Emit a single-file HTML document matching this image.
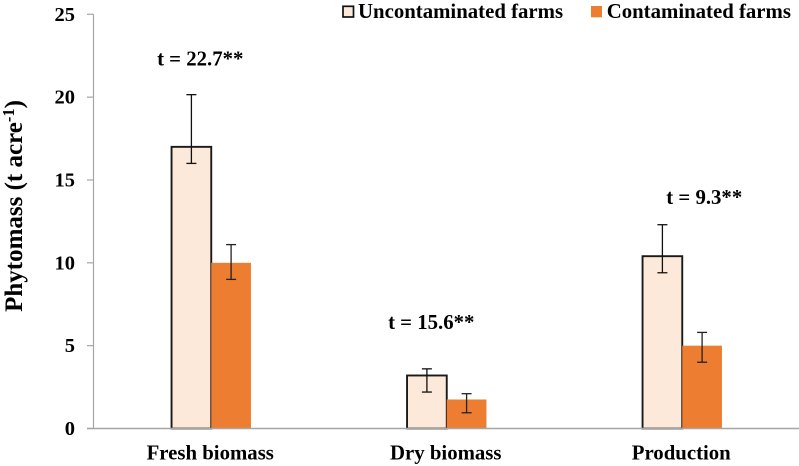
<!DOCTYPE html>
<html>
<head>
<meta charset="utf-8">
<style>
html,body{margin:0;padding:0;background:#fff;}
svg{display:block;}
text{font-family:"Liberation Serif",serif;font-weight:bold;fill:#000;}
</style>
</head>
<body>
<svg id="chart" xmlns="http://www.w3.org/2000/svg" width="799" height="466" viewBox="0 0 799 466">
  <text transform="translate(22,206) rotate(-90)" text-anchor="middle" font-size="25">Phytomass (t acre<tspan dy="-8" font-size="16.5">-1</tspan><tspan dy="8">)</tspan></text>
  <g>
    <rect x="343" y="6.3" width="10.5" height="10.7" fill="#fde9da" stroke="#111" stroke-width="1.7"/>
    <text x="358" y="18" font-size="20.8">Uncontaminated farms</text>
    <rect x="591" y="6" width="11" height="11.3" fill="#ed7d31"/>
    <text x="606.7" y="18" font-size="20.8">Contaminated farms</text>
  </g>
</svg>
<script>
const categories = ['Fresh biomass', 'Dry biomass', 'Production'];
const uncontaminated = [17, 3.2, 10.4];
const contaminated = [10, 1.75, 5];
const uncontaminatedHigh = [20.15, 3.6, 12.3];
const uncontaminatedLow = [16, 2.2, 9.4];
const contaminatedHigh = [11.1, 2.1, 5.8];
const contaminatedLow = [9, 0.95, 4];
const tickValues = [0, 5, 10, 15, 20, 25];
const tTests = ['t = 22.7**', 't = 15.6**', 't = 9.3**'];
const tTestLevels = [21.9, 6.0, 13.55];
const tTestOffsets = [-11, -15.5, 22];

const NS = 'http://www.w3.org/2000/svg';
const svg = document.getElementById('chart');
const axisLeft = 93.5, axisRight = 799, axisBottom = 428.5, axisTop = 14.3;
const plotWidth = 706.5;
const yMax = 25;
const barWidth = 39.7;
function y(v) { return axisBottom - (v / yMax) * (axisBottom - axisTop); }
function x(i) { return axisLeft + plotWidth * (i + 0.5) / categories.length; }
function make(tag, attrs, name) {
  const el = document.createElementNS(NS, tag);
  for (const k in attrs) el.setAttribute(k, attrs[k]);
  
  
  svg.appendChild(el);
  return el;
}
function errorBar(cx, hi, lo, name, color) {
  const yh = y(hi), yl = y(lo);
  make('line', {x1: cx, x2: cx, y1: yh, y2: yl, stroke: color, 'stroke-width': 1.3}, name + '-stem');
  make('line', {x1: cx - 5, x2: cx + 5, y1: yh, y2: yh, stroke: color, 'stroke-width': 1.3}, name + '-cap-high');
  make('line', {x1: cx - 5, x2: cx + 5, y1: yl, y2: yl, stroke: color, 'stroke-width': 1.3}, name + '-cap-low');
}

make('line', {x1: axisLeft, x2: axisLeft, y1: axisTop, y2: axisBottom, stroke: '#a6a6a6', 'stroke-width': 1.2}, 'y-axis-line');
tickValues.forEach(function (v) {
  make('line', {x1: 87, x2: axisLeft, y1: y(v), y2: y(v), stroke: '#a6a6a6', 'stroke-width': 1.2}, 'y-tick-' + v);
  const t = make('text', {x: 75, y: y(v) + 6.5, 'text-anchor': 'end', 'font-size': 20.5}, 'y-tick-label-' + v);
  t.textContent = v;
});

categories.forEach(function (c, i) {
  const cx = x(i);
  const slug = c.toLowerCase().replace(/\s+/g, '-');
  make('rect', {x: cx - barWidth, y: y(uncontaminated[i]), width: barWidth, height: axisBottom - y(uncontaminated[i]), fill: '#fde9da', stroke: '#1a1a1a', 'stroke-width': 1.9}, 'bar-uncontaminated-' + slug);
  make('rect', {x: cx, y: y(contaminated[i]), width: barWidth, height: axisBottom - y(contaminated[i]), fill: '#ed7d31'}, 'bar-contaminated-' + slug);
});

make('line', {x1: 87, x2: axisRight, y1: axisBottom, y2: axisBottom, stroke: '#a6a6a6', 'stroke-width': 1.4}, 'x-axis-line');

categories.forEach(function (c, i) {
  const cx = x(i);
  const slug = c.toLowerCase().replace(/\s+/g, '-');
  errorBar(cx - barWidth / 2, uncontaminatedHigh[i], uncontaminatedLow[i], 'error-uncontaminated-' + slug, '#111');
  errorBar(cx + barWidth / 2, contaminatedHigh[i], contaminatedLow[i], 'error-contaminated-' + slug, '#222');
  const label = make('text', {x: cx - 1, y: 459.5, 'text-anchor': 'middle', 'font-size': 20.8}, 'x-label-' + slug);
  label.textContent = c;
  const tt = make('text', {x: cx + tTestOffsets[i], y: y(tTestLevels[i]), 'text-anchor': 'middle', 'font-size': 20.8}, 't-test-' + slug);
  tt.textContent = tTests[i];
});
</script>
</body>
</html>
